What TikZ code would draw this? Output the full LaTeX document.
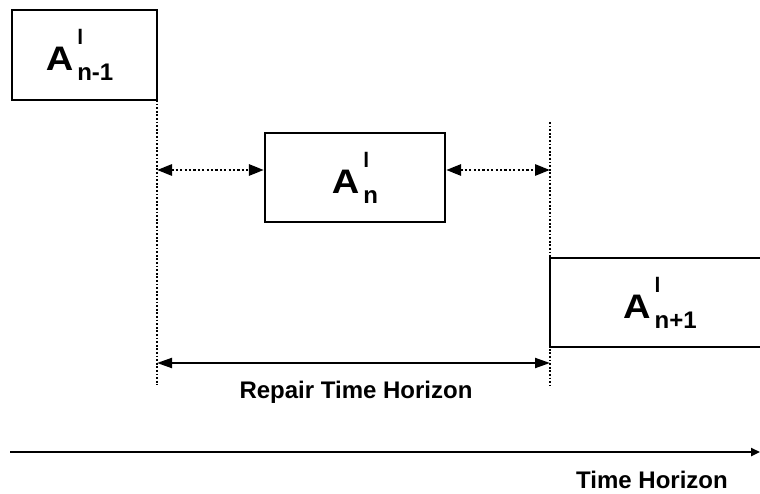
\documentclass[tikz,border=0pt]{standalone}
\usepackage{fontspec}
\setmainfont{Liberation Sans}
\usetikzlibrary{arrows.meta}

% A with a raised l over a lowered index
\newcommand{\actlabel}[1]{%
  \scalebox{1.12}[1]{\fontsize{34}{34}\selectfont\bfseries A}%
  \hspace{4pt}%
  \rlap{\raisebox{26pt}{\fontsize{21}{21}\selectfont\bfseries l}}%
  \raisebox{-10pt}{\fontsize{24}{24}\selectfont\bfseries #1}}

\tikzset{
  activity/.style={draw, line width=2.2, inner sep=0, font=\bfseries},
  guide/.style={line width=2.2, dash pattern=on 1.8pt off 1.8pt},
  gap/.style={line width=2.8, dash pattern=on 2.2pt off 2.2pt, {Triangle[length=15, width=11]}-{Triangle[length=15, width=11]}},
  span/.style={line width=2, {Triangle[length=15, width=10]}-{Triangle[length=15, width=10]}}
}

\begin{document}
\begin{tikzpicture}[x=1pt,y=-1pt]
  \useasboundingbox (0,0) rectangle (760,494);
  \node[activity, minimum width=145, minimum height=90] (prev) at (84.5,55) {\hspace*{-10pt}\actlabel{n-1}};
  \node[activity, minimum width=180, minimum height=89] (cur) at (355,177.5) {\actlabel{n}};
  \node[activity, minimum width=230, minimum height=89] (next) at (665,302.5) {\hspace*{-10pt}\actlabel{n+1}};

  \coordinate (ltop) at (157,100);
  \coordinate (lbot) at (157,385);
  \coordinate (rtop) at (550,122);
  \coordinate (rbot) at (550,385);
  \draw[guide] (ltop) -- (lbot);
  \draw[guide] (rtop) -- (rbot);

  \coordinate (lgap) at (157,170);
  \coordinate (rgap) at (550,170);
  \draw[gap] (lgap) -- (lgap -| cur.west);
  \draw[gap] (rgap -| cur.east) -- (rgap);

  \coordinate (lspan) at (157,363);
  \coordinate (rspan) at (550,363);
  \draw[span] (lspan) -- (rspan);
  \node[font=\bfseries\fontsize{24}{24}\selectfont] (repair) at (356,392) {Repair Time Horizon};

  \coordinate (t0) at (10,452);
  \coordinate (t1) at (760,452);
  \draw[line width=2.4, -{Triangle[length=9, width=8]}] (t0) -- (t1);
  \node[font=\bfseries\fontsize{24}{24}\selectfont] (time) at (652,480) {Time Horizon};
\end{tikzpicture}
\end{document}
